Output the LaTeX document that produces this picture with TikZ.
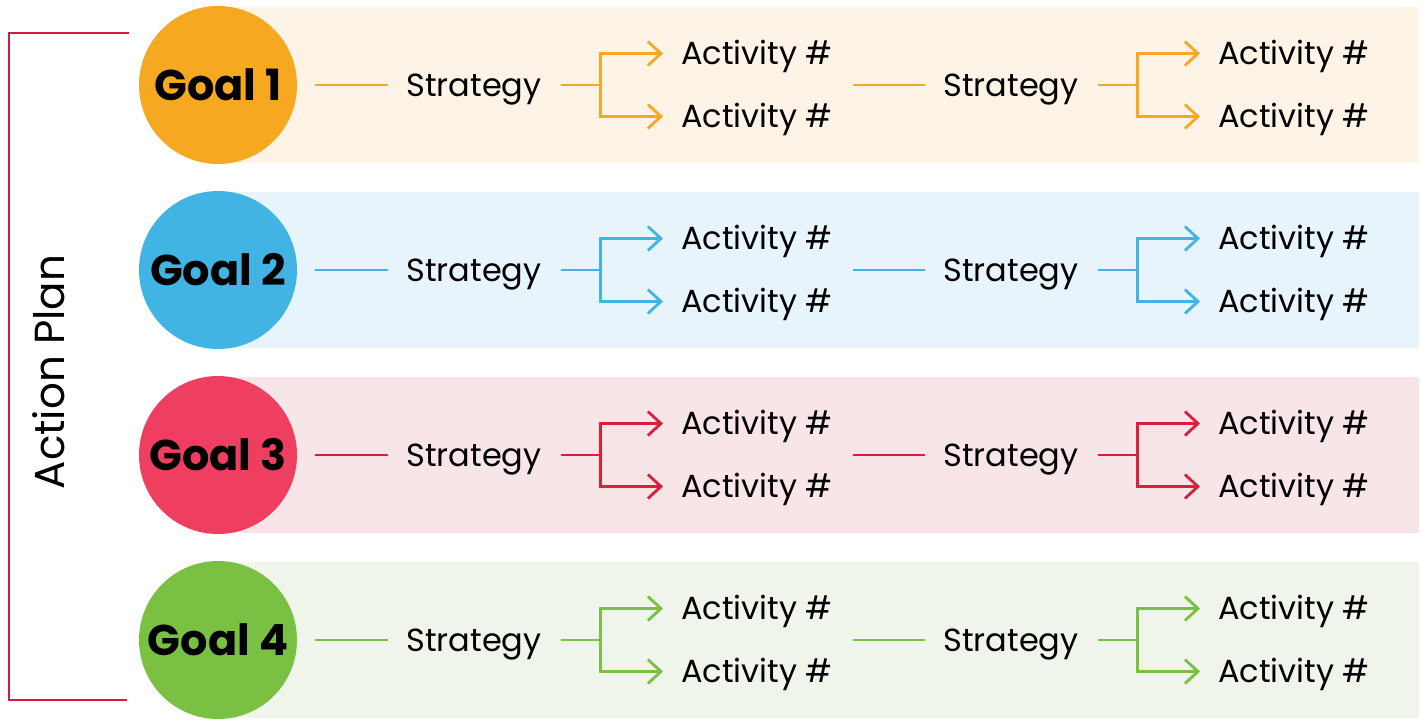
\documentclass[tikz,border=0pt]{standalone}
\usepackage{fontspec}
\setmainfont{Poppins}
\usetikzlibrary{arrows.meta}
\definecolor{cO}{HTML}{F6A820}
\definecolor{bO}{HTML}{FDF3E6}
\definecolor{cB}{HTML}{41B4E3}
\definecolor{bB}{HTML}{E8F4FB}
\definecolor{cR}{HTML}{EF3F60}
\definecolor{lR}{HTML}{D9203A}
\definecolor{bR}{HTML}{F8E5E8}
\definecolor{cG}{HTML}{7AC143}
\definecolor{bG}{HTML}{EFF5EA}
\definecolor{brk}{HTML}{D51A46}
\tikzset{
  goal/.style={circle, minimum size=158pt, inner sep=0pt, text height=30pt, text depth=0pt, font=\fontsize{43}{43}\selectfont\bfseries},
  strat/.style={inner sep=0pt, text height=22.5pt, text depth=0pt, font=\fontsize{32}{32}\selectfont},
  act/.style={strat, anchor=west},
  conn/.style={line width=2.8pt},
  arr/.style={conn, -{Straight Barb[length=13pt,width=24pt,line width=2.8pt]}},
}
\begin{document}
\begin{tikzpicture}[x=1pt,y=-1pt]
\useasboundingbox (0,0) rectangle (1423,721);
% bracket
\coordinate (bt) at (129,33);
\coordinate (bb) at (127,700);
\draw[brk, line width=2.4pt] (bt) -- (9,33) -- (9,700) -- (bb);
\node[rotate=90, inner sep=0pt, text height=29pt, text depth=0pt, font=\fontsize{42}{42}\selectfont] (ap) at (50,372) {Action Plan};
\foreach \i/\y/\cc/\bc/\lc in {1/85/cO/bO/cO, 2/270/cB/bB/cB, 3/455/cR/bR/lR, 4/640/cG/bG/cG}{
  \fill[\bc] (218,\y-78) rectangle (1419,\y+78);
  \node[goal, fill=\cc] (g\i) at (218,\y) {Goal \i};
  \node[strat] (s\i a) at (474,\y) {Strategy};
  \node[strat] (s\i b) at (1011,\y) {Strategy};
  \node[act] (a\i a) at (681,\y-31.5) {Activity \#};
  \node[act] (a\i b) at (681,\y+31.5) {Activity \#};
  \node[act] (a\i c) at (1218,\y-31.5) {Activity \#};
  \node[act] (a\i d) at (1218,\y+31.5) {Activity \#};
  \draw[conn, \lc] ([xshift=18pt]g\i.east) -- ([xshift=-18pt]s\i a.west);
  \draw[conn, \lc] ([xshift=19pt]s\i a.east) -- ++(40,0) coordinate (j\i a);
  \draw[arr, \lc] (j\i a) |- ([xshift=-18pt]a\i a.west);
  \draw[arr, \lc] (j\i a) |- ([xshift=-18pt]a\i b.west);
  \draw[conn, \lc] ([xshift=20pt]a\i a.east |- s\i b) -- ([xshift=-18pt]s\i b.west);
  \draw[conn, \lc] ([xshift=19pt]s\i b.east) -- ++(40,0) coordinate (j\i b);
  \draw[arr, \lc] (j\i b) |- ([xshift=-18pt]a\i c.west);
  \draw[arr, \lc] (j\i b) |- ([xshift=-18pt]a\i d.west);
}
\end{tikzpicture}
\end{document}
